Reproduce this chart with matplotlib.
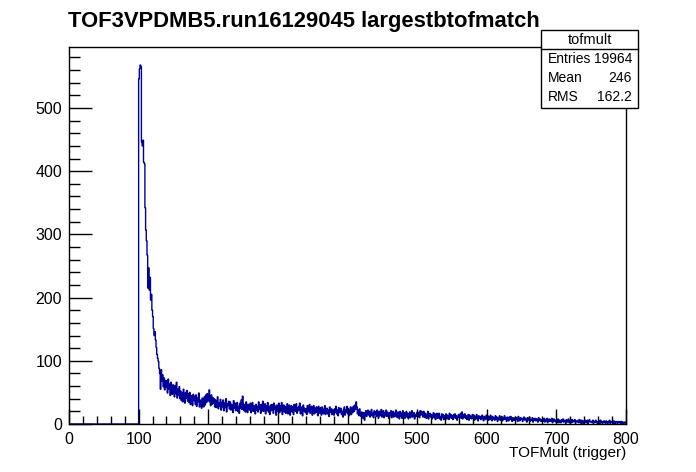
#TOFMULT HISTOGRAM, ROOT STYLE
#Counts per unit bin, bins 100..799.
#Everything below bin 100 is empty.
import numpy as np
import matplotlib
matplotlib.use("Agg")
import matplotlib.pyplot as plt
from matplotlib.patches import Rectangle
from matplotlib.ticker import MultipleLocator

title = "TOF3VPDMB5.run16129045 largestbtofmatch"
xlabel = "TOFMult (trigger)"
hist_name = "tofmult"
stat_labels = ["Entries", "Mean", "RMS"]
stat_values = ["19964", "246", "162.2"]

first_bin = 100
n_bins = 800

#peak region, 100..139
peak = [546, 562, 568, 565, 446, 440, 449, 414, 412, 342,
        307, 290, 267, 215, 247, 212, 232, 196, 205, 180,
        170, 151, 140, 146, 133, 121, 110, 104, 99, 88,
        80, 55, 86, 68, 78, 59, 73, 54, 69, 58]

#140..299
tail_a = [68, 49, 71, 55, 63, 45, 66, 58, 47, 62,
          57, 43, 61, 48, 66, 41, 55, 46, 59, 40,
          52, 37, 49, 35, 55, 43, 33, 50, 41, 53,
          36, 48, 34, 50, 31, 45, 39, 29, 47, 37,
          44, 31, 46, 28, 41, 35, 49, 27, 38, 33,
          25, 41, 32, 27, 43, 30, 46, 34, 48, 36,
          44, 54, 35, 29, 46, 31, 42, 33, 40, 27,
          38, 26, 35, 43, 24, 33, 28, 39, 22, 34,
          27, 38, 21, 33, 26, 40, 19, 32, 29, 36,
          24, 35, 22, 31, 27, 18, 37, 25, 33, 21,
          30, 34, 20, 28, 17, 33, 25, 38, 23, 44,
          32, 21, 30, 19, 35, 26, 18, 31, 27, 22,
          33, 18, 28, 34, 20, 29, 24, 16, 31, 22,
          28, 19, 35, 23, 30, 17, 31, 21, 36, 20,
          24, 32, 16, 29, 22, 34, 19, 27, 15, 30,
          21, 31, 25, 17, 33, 23, 28, 14, 30, 20]

#300..499
tail_b = [27, 33, 18, 29, 21, 34, 15, 25, 30, 19,
          28, 17, 26, 32, 16, 24, 30, 14, 22, 29,
          19, 27, 15, 31, 23, 20, 32, 17, 26, 21,
          28, 33, 16, 22, 27, 13, 30, 20, 25, 18,
          24, 15, 29, 19, 26, 31, 17, 22, 28, 14,
          21, 29, 16, 25, 18, 27, 20, 13, 28, 22,
          17, 26, 14, 27, 21, 16, 24, 29, 15, 23,
          25, 16, 22, 12, 27, 19, 24, 15, 23, 18,
          14, 24, 19, 28, 16, 22, 13, 26, 18, 21,
          25, 15, 20, 11, 23, 27, 14, 22, 19, 28,
          16, 24, 13, 21, 27, 15, 25, 18, 28, 20,
          30, 23, 35, 27, 16, 22, 13, 24, 17, 12,
          19, 14, 9, 18, 6, 15, 21, 12, 17, 22,
          14, 20, 11, 18, 23, 13, 17, 10, 21, 15,
          19, 12, 22, 15, 9, 20, 13, 17, 23, 11,
          15, 21, 10, 18, 13, 22, 12, 19, 16, 9,
          18, 13, 21, 10, 16, 20, 11, 17, 12, 22,
          14, 10, 19, 16, 8, 20, 12, 17, 9, 21,
          12, 18, 9, 15, 20, 11, 17, 8, 14, 19,
          10, 16, 21, 11, 13, 18, 8, 15, 12, 17]

#500..799
tail_c = [19, 12, 18, 10, 21, 14, 20, 16, 11, 20,
          18, 10, 16, 9, 14, 20, 8, 13, 17, 11,
          15, 8, 13, 18, 10, 16, 7, 12, 17, 9,
          14, 17, 8, 12, 6, 16, 10, 15, 7, 13,
          11, 16, 8, 14, 12, 7, 17, 10, 15, 9,
          13, 7, 15, 10, 16, 9, 13, 6, 11, 15,
          10, 14, 17, 9, 19, 8, 15, 11, 16, 9,
          13, 7, 11, 15, 6, 14, 9, 12, 8, 15,
          10, 14, 6, 12, 8, 15, 10, 5, 13, 9,
          12, 7, 11, 14, 8, 5, 12, 10, 7, 14,
          9, 13, 6, 11, 7, 14, 9, 5, 12, 8,
          10, 6, 13, 8, 11, 4, 10, 7, 13, 6,
          8, 12, 5, 10, 7, 13, 8, 10, 4, 11,
          9, 5, 11, 7, 12, 8, 4, 10, 6, 9,
          6, 11, 7, 9, 4, 12, 7, 5, 10, 8,
          9, 4, 8, 11, 6, 9, 7, 3, 10, 6,
          8, 11, 4, 7, 6, 10, 3, 8, 6, 9,
          5, 8, 7, 3, 10, 6, 8, 4, 7, 4,
          7, 4, 9, 3, 7, 5, 9, 2, 6, 8,
          4, 7, 5, 9, 2, 6, 8, 4, 6, 3,
          6, 3, 8, 2, 6, 5, 2, 7, 4, 8,
          3, 6, 5, 1, 7, 3, 5, 8, 2, 5,
          6, 2, 7, 3, 5, 4, 7, 1, 5, 4,
          3, 6, 2, 7, 4, 1, 6, 4, 1, 5,
          2, 6, 4, 2, 6, 1, 4, 7, 3, 4,
          4, 2, 6, 1, 4, 3, 6, 2, 4, 1,
          3, 5, 1, 6, 2, 4, 1, 3, 5, 3,
          1, 5, 3, 1, 4, 2, 6, 1, 3, 4,
          3, 1, 5, 2, 1, 4, 3, 1, 4, 2,
          2, 4, 1, 4, 1, 3, 0, 3, 2, 3]

counts = np.zeros(n_bins)
filled = peak + tail_a + tail_b + tail_c
counts[first_bin:first_bin + len(filled)] = filled
edges = np.arange(n_bins + 1)

plt.rcParams['font.family'] = ['Liberation Sans', 'DejaVu Sans']

W, H = 696, 472
fig = plt.figure(figsize=(W / 100, H / 100), dpi=100)
#frame: x 69..626 px, y 47..424 px
ax = fig.add_axes([69 / W, (H - 424) / H, (626 - 69) / W, (424 - 47) / H])

ax.stairs(counts, edges, color='#000099', linewidth=1.0, baseline=0)

ax.set_xlim(0, 800)
ax.set_ylim(0, 1.05 * max(counts))
ax.xaxis.set_major_locator(MultipleLocator(100))
ax.xaxis.set_minor_locator(MultipleLocator(20))
ax.yaxis.set_major_locator(MultipleLocator(100))
ax.yaxis.set_minor_locator(MultipleLocator(20))
ax.tick_params(which='both', direction='in', top=False, right=False,
               labelsize=11.5, width=1, color='black')
ax.tick_params(axis='x', which='major', length=11, pad=6)
ax.tick_params(axis='x', which='minor', length=5.5)
ax.tick_params(axis='y', which='major', length=16.5, pad=5)
ax.tick_params(axis='y', which='minor', length=8)
for s in ax.spines.values():
    s.set_linewidth(1)

fig.text(626 / W, 1 - 453 / H, xlabel, ha='right', va='center', fontsize=11)
fig.text(68 / W, 1 - 21 / H, title, ha='left', va='center',
         fontsize=15.8, fontweight='bold')

#stats box
bx0, bx1, by0, by1 = 541, 638, 30, 108
fig.patches.append(Rectangle((bx0 / W, 1 - by1 / H), (bx1 - bx0) / W,
                             (by1 - by0) / H, transform=fig.transFigure,
                             facecolor='white', edgecolor='black',
                             linewidth=1, zorder=5))
fig.lines.append(plt.Line2D([bx0 / W, bx1 / W], [1 - 49 / H, 1 - 49 / H],
                            transform=fig.transFigure, color='black',
                            linewidth=1, zorder=6))
fig.text((bx0 + bx1) / 2 / W, 1 - 40 / H, hist_name, ha='center',
         va='center', fontsize=10.5, zorder=7)
for i, (lab, val) in enumerate(zip(stat_labels, stat_values)):
    y = 1 - (59 + 19 * i) / H
    fig.text(548 / W, y, lab, ha='left', va='center', fontsize=10, zorder=7)
    fig.text(632 / W, y, val, ha='right', va='center', fontsize=10, zorder=7)

fig.savefig("out.png", dpi=100)
